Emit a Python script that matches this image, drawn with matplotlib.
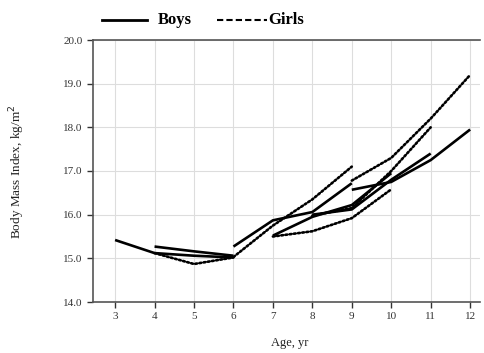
import matplotlib
matplotlib.use("Agg")
import matplotlib.pyplot as plt
from matplotlib.lines import Line2D

# Boys cohorts (age, BMI)
boys_ages = [[3, 4, 5, 6], [4, 5, 6], [6, 7, 8, 9], [7, 8, 9, 10], [8, 9, 10, 11], [9, 10, 11, 12]]
boys_bmi = [[15.42, 15.12, 15.06, 15.02],
            [15.27, 15.16, 15.06],
            [15.27, 15.87, 16.06, 16.72],
            [15.52, 15.95, 16.22, 16.95],
            [16.00, 16.12, 16.80, 17.40],
            [16.57, 16.75, 17.25, 17.95]]

# Girls cohorts
girls_ages = [[4, 5, 6], [6, 7, 8, 9], [7, 8, 9, 10], [8, 9, 10, 11], [9, 10, 11, 12]]
girls_bmi = [[15.12, 14.87, 15.02],
             [15.03, 15.75, 16.35, 17.10],
             [15.50, 15.62, 15.92, 16.58],
             [15.98, 16.15, 17.00, 18.00],
             [16.78, 17.30, 18.20, 19.20]]

x_ticks = [3, 4, 5, 6, 7, 8, 9, 10, 11, 12]
y_ticks = [14.0, 15.0, 16.0, 17.0, 18.0, 19.0, 20.0]

plt.rcParams['font.family'] = ['Liberation Serif', 'DejaVu Serif']

W, H = 484, 353
fig = plt.figure(figsize=(W/100, H/100), dpi=100)
ax = fig.add_axes([93/W, (H-302)/H, (480-93)/W, (302-40)/H])

lw = 1.9
for a, b in zip(boys_ages, boys_bmi):
    ax.plot(a, b, color='black', lw=lw, solid_capstyle='butt')
dot_style = (0, (0.7, 0.9))
for a, b in zip(girls_ages, girls_bmi):
    ax.plot(a, b, color='black', lw=lw, linestyle=dot_style, dash_capstyle='round')

ax.set_xlim(2.44, 12.25)
ax.set_ylim(14, 20)
ax.set_xticks(x_ticks)
ax.set_yticks(y_ticks)
ax.set_yticklabels([f"{v:.1f}" for v in y_ticks])
ax.grid(True, color='#dddddd', lw=0.8)
ax.set_axisbelow(True)
for s in ['left', 'top', 'bottom']:
    ax.spines[s].set_color('#555555')
    ax.spines[s].set_linewidth(1.2)
ax.spines['right'].set_visible(False)
ax.tick_params(axis='both', labelsize=8, colors='#333333', length=4, width=1, direction='out')

ax.set_xlabel("Age, yr", fontsize=9, color='#222222')
ax.set_ylabel("Body Mass Index, kg/m$^2$", fontsize=9.5, color='#222222')
ax.xaxis.set_label_coords((290-93)/387, (302-343)/262)
ax.yaxis.set_label_coords((17-93)/387, (302-172)/262)
ax.xaxis.label.set_va('center')
ax.yaxis.label.set_va('center')

# Legend drawn at top (figure coordinates)
ly = 1 - 20/H
fig.add_artist(Line2D([102/W, 147/W], [ly, ly], color='black', lw=2.0, transform=fig.transFigure))
fig.text(158/W, ly, "Boys", fontsize=12, fontweight='bold', va='center', ha='left')
fig.add_artist(Line2D([217/W, 267/W], [ly, ly], color='black', lw=1.5,
                      linestyle=(0, (3, 1.5)), transform=fig.transFigure))
fig.text(268/W, ly, "Girls", fontsize=12, fontweight='bold', va='center', ha='left')

fig.savefig("out.png", dpi=100)
